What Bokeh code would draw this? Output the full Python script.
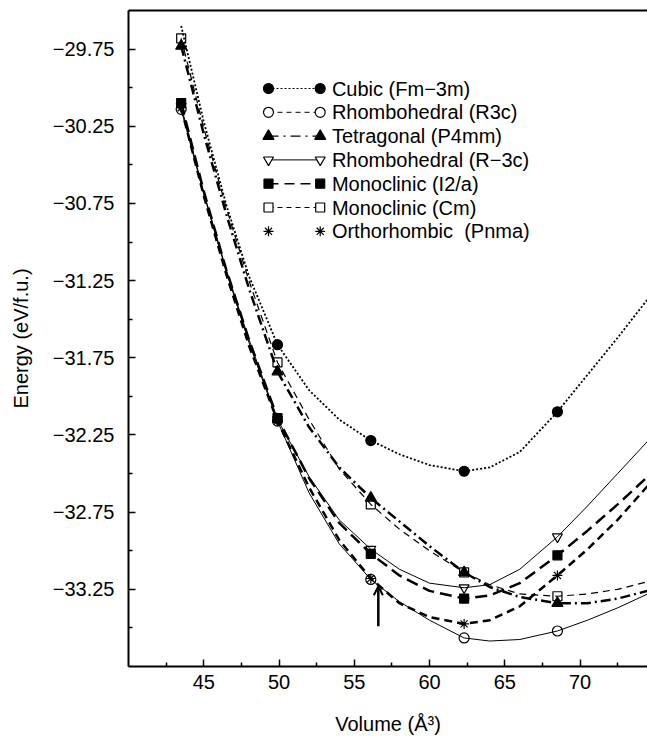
from bokeh.plotting import figure
from bokeh.models import Range1d, LinearAxis, FixedTicker, CustomJSTickFormatter, Arrow, OpenHead
from bokeh.core.properties import value
from bokeh.embed import file_html
from bokeh.resources import INLINE

# ---------------- data ----------------
# calculated points (volume in A^3, energy in eV/f.u.)
vol_pts = [43.5, 49.9, 56.1, 62.3, 68.5]
cubic_vol_pts = [49.9, 56.1, 62.3, 68.5]
cubic_pts = [-31.665, -32.286, -32.485, -32.10]
r3c_pts = [-30.14, -32.16, -33.186, -33.565, -33.52]
p4mm_pts = [-29.73, -31.84, -32.658, -33.14, -33.34]
rm3c_pts = [-30.12, -32.15, -32.99, -33.24, -32.91]
i2a_pts = [-30.10, -32.14, -33.02, -33.31, -33.03]
cm_pts = [-29.68, -31.78, -32.70, -33.14, -33.295]
pnma_pts = [-30.13, -32.16, -33.18, -33.474, -33.16]

# fitted curves
vol_curve = [43.5, 45, 46.5, 48, 49.9, 52, 54, 56.1, 58, 60, 62.3, 64, 66, 68.5, 70.5, 72.5, 74.5]
cubic_curve = [-29.60, -30.22, -30.76, -31.22, -31.665, -31.96, -32.15, -32.286, -32.375, -32.445,
               -32.485, -32.46, -32.36, -32.10, -31.86, -31.62, -31.37]
r3c_curve = [-30.14, -30.69, -31.19, -31.65, -32.16, -32.625, -32.955, -33.186, -33.33, -33.45,
             -33.565, -33.585, -33.575, -33.52, -33.45, -33.37, -33.28]
p4mm_curve = [-29.73, -30.30, -30.82, -31.30, -31.84, -32.20, -32.46, -32.658, -32.81, -32.97,
              -33.14, -33.235, -33.30, -33.34, -33.34, -33.31, -33.26]
rm3c_curve = [-30.12, -30.68, -31.18, -31.63, -32.15, -32.52, -32.80, -32.99, -33.12, -33.21,
              -33.24, -33.22, -33.12, -32.91, -32.71, -32.50, -32.29]
i2a_curve = [-30.10, -30.67, -31.18, -31.63, -32.14, -32.53, -32.82, -33.02, -33.16, -33.26,
             -33.31, -33.29, -33.21, -33.03, -32.87, -32.70, -32.52]
cm_curve = [-29.68, -30.26, -30.78, -31.25, -31.78, -32.15, -32.47, -32.70, -32.86, -33.00,
            -33.14, -33.22, -33.28, -33.295, -33.28, -33.25, -33.20]
pnma_curve = [-30.13, -30.70, -31.21, -31.67, -32.16, -32.59, -32.93, -33.18, -33.34, -33.43,
              -33.474, -33.45, -33.36, -33.16, -32.99, -32.80, -32.58]

labels = ["Cubic (Fm\u22123m)", "Rhombohedral (R3c)", "Tetragonal (P4mm)", "Rhombohedral (R\u22123c)",
          "Monoclinic (I2/a)", "Monoclinic (Cm)", "Orthorhombic\u00a0 (Pnma)"]
x_title = "Volume (\u00c5\u00b3)"
y_title = "Energy (eV/f.u.)"

x_major = [45, 50, 55, 60, 65, 70]
x_minor = [42.5, 47.5, 52.5, 57.5, 62.5, 67.5, 72.5]
y_major = [-29.75, -30.25, -30.75, -31.25, -31.75, -32.25, -32.75, -33.25]
y_minor = [-30.0, -30.5, -31.0, -31.5, -32.0, -32.5, -33.0, -33.5]

arrow_vol = 56.6
arrow_energy = [-33.49, -33.23]

# ---------------- styling ----------------
FONT = "Liberation Sans"
FS = "20px"

W, H = 647, 740
ML, MR, MT, MB = 128, 0, 10, 74
FW, FH = W - ML - MR, H - MT - MB

p = figure(width=W, height=H, output_backend="svg", toolbar_location=None,
           x_range=Range1d(40, 40 + FW / 15.05), y_range=Range1d(-33.75, -29.5),
           min_border_left=ML, min_border_right=MR, min_border_top=MT, min_border_bottom=MB,
           x_axis_label=x_title, y_axis_label=y_title)
p.outline_line_color = None
p.xgrid.visible = False
p.ygrid.visible = False
p.background_fill_color = "white"
p.border_fill_color = "white"

for ax in (p.xaxis[0], p.yaxis[0]):
    ax.axis_line_width = 2
    ax.axis_line_color = "black"
    ax.major_tick_in = 7
    ax.major_tick_out = 0
    ax.minor_tick_in = 4
    ax.minor_tick_out = 0
    ax.major_tick_line_width = 1.5
    ax.minor_tick_line_width = 1.5
    ax.major_tick_line_color = "black"
    ax.minor_tick_line_color = "black"
    ax.major_label_text_font = FONT
    ax.major_label_text_font_size = FS
    ax.major_label_text_color = "black"
    ax.axis_label_text_font = FONT
    ax.axis_label_text_font_size = FS
    ax.axis_label_text_font_style = "normal"
    ax.axis_label_text_color = "black"

p.xaxis.ticker = FixedTicker(ticks=x_major, minor_ticks=x_minor)
p.yaxis.ticker = FixedTicker(ticks=y_major, minor_ticks=y_minor)
p.yaxis.formatter = CustomJSTickFormatter(code="return (tick < 0 ? '\u2212' : '') + Math.abs(tick).toFixed(2);")
p.xaxis.major_label_standoff = 8
p.xaxis.axis_label_standoff = 21
p.yaxis.major_label_standoff = 14
p.yaxis.axis_label_standoff = 18

top = LinearAxis(ticker=FixedTicker(ticks=[]), axis_line_width=2, axis_line_color="black",
                 major_tick_line_color=None, minor_tick_line_color=None,
                 major_label_text_font_size="0px", major_label_standoff=0)
p.add_layout(top, "above")

series = [
    dict(vx=cubic_vol_pts, pts=cubic_pts, curve=cubic_curve, marker="circle", filled=True, size=10,
         lw=1.8, dash="2 2", llw=1.2, ldash="2 2"),
    dict(vx=vol_pts, pts=r3c_pts, curve=r3c_curve, marker="circle", filled=False, size=10,
         lw=1.0, dash="solid", llw=1.0, ldash="5 4"),
    dict(vx=vol_pts, pts=p4mm_pts, curve=p4mm_curve, marker="triangle", filled=True, size=11,
         lw=2.5, dash="10 4 2 4", llw=1.2, ldash="10 5 2 5"),
    dict(vx=vol_pts, pts=rm3c_pts, curve=rm3c_curve, marker="inverted_triangle", filled=False, size=10,
         lw=1.0, dash="solid", llw=1.0, ldash="solid"),
    dict(vx=vol_pts, pts=i2a_pts, curve=i2a_curve, marker="square", filled=True, size=9,
         lw=2.5, dash="12 6", llw=1.5, ldash="10 6"),
    dict(vx=vol_pts, pts=cm_pts, curve=cm_curve, marker="square", filled=False, size=9,
         lw=1.2, dash="7 5", llw=1.0, ldash="5 4"),
    dict(vx=vol_pts, pts=pnma_pts, curve=pnma_curve, marker="asterisk", filled=False, size=10,
         lw=2.5, dash="8 5", llw=0, ldash="solid"),
]

for s in series:
    p.line(vol_curve, s["curve"], line_color="black", line_width=s["lw"], line_dash=s["dash"])
for s in series:
    p.scatter(s["vx"], s["pts"], marker=s["marker"], size=s["size"], line_color="black",
              fill_color="black" if s["filled"] else None, line_width=1.2)

p.add_layout(Arrow(end=OpenHead(size=9, line_width=2, line_color="black"),
                   x_start=arrow_vol, y_start=arrow_energy[0], x_end=arrow_vol, y_end=arrow_energy[1],
                   line_width=2.5, line_color="black"))

# legend drawn in frame-pixel space
p.extra_x_ranges = {"px": Range1d(0, FW)}
p.extra_y_ranges = {"px": Range1d(FH, 0)}
LX0, LX1, LTX = 140.0, 191.7, 203.4
LY0, LDY = 78.0, 23.8
for i, (s, lab) in enumerate(zip(series, labels)):
    yy = LY0 + i * LDY
    if s["llw"] > 0:
        p.line([LX0, LX1], [yy, yy], x_range_name="px", y_range_name="px",
               line_color="black", line_width=s["llw"], line_dash=s["ldash"])
    p.scatter([LX0, LX1], [yy, yy], x_range_name="px", y_range_name="px", marker=s["marker"],
              size=s["size"], line_color="black", fill_color="black" if s["filled"] else "white",
              line_width=1.2)
    p.text([LTX], [yy], text=[lab], x_range_name="px", y_range_name="px",
           text_font=value(FONT), text_font_size=FS, text_baseline="middle", text_align="left",
           text_color="black")

open("out.html", "w").write(file_html(p, INLINE))
